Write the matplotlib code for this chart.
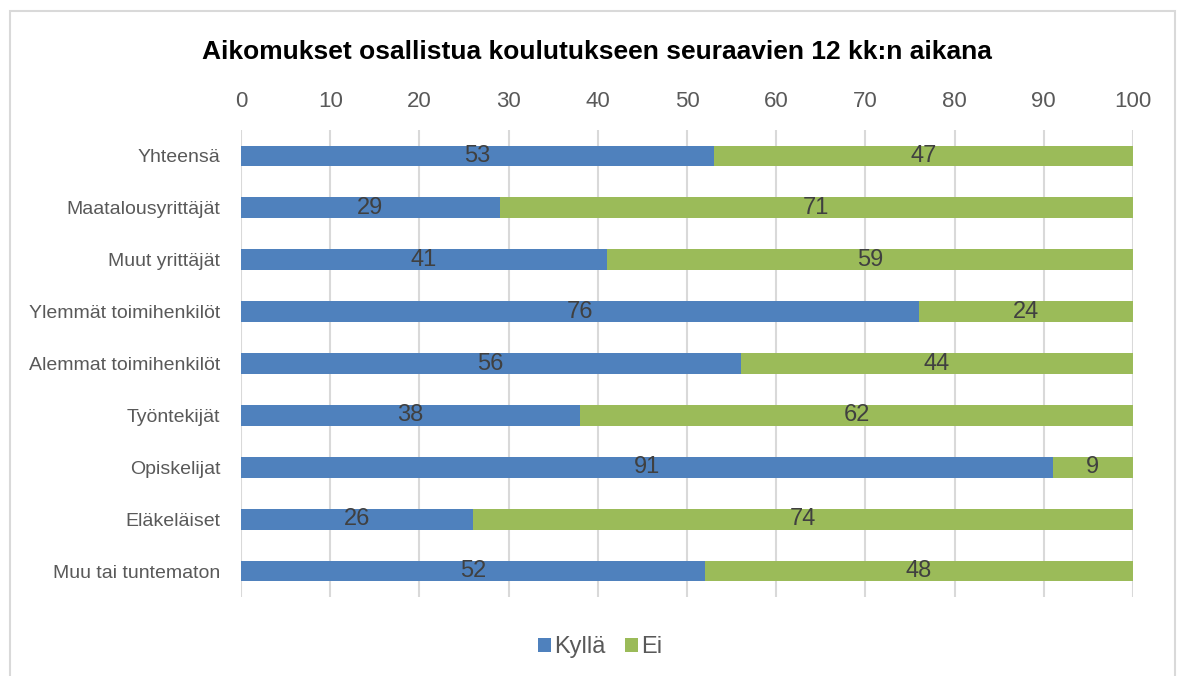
import matplotlib
matplotlib.use("Agg")
import matplotlib.pyplot as plt
from matplotlib.patches import Rectangle, Patch

plt.rcParams['font.family'] = ['Liberation Sans', 'DejaVu Sans']

categories = ['Yhteensä', 'Maatalousyrittäjät', 'Muut yrittäjät',
              'Ylemmät toimihenkilöt', 'Alemmat toimihenkilöt', 'Työntekijät',
              'Opiskelijat', 'Eläkeläiset', 'Muu tai tuntematon']
kylla = [53, 29, 41, 76, 56, 38, 91, 26, 52]
ei = [47, 71, 59, 24, 44, 62, 9, 74, 48]
ticks = [0, 10, 20, 30, 40, 50, 60, 70, 80, 90, 100]

blue = '#4F81BD'
green = '#9BBB59'
W, H = 1183, 676

fig = plt.figure(figsize=(W / 100, H / 100), dpi=100)
ax = fig.add_axes([241 / W, 1 - 597 / H, (1133 - 241) / W, (597 - 130) / H])

y = list(range(len(categories)))
ax.barh(y, kylla, height=0.4, color=blue, label='Kyllä', zorder=3)
ax.barh(y, ei, left=kylla, height=0.4, color=green, label='Ei', zorder=3)

for i in y:
    ax.text(kylla[i] / 2, i, str(kylla[i]), ha='center', va='center',
            fontsize=17, color='#404040', zorder=4)
    ax.text(kylla[i] + ei[i] / 2, i, str(ei[i]), ha='center', va='center',
            fontsize=17, color='#404040', zorder=4)

ax.set_xlim(0, 100)
ax.set_ylim(len(categories) - 0.5, -0.5)
ax.set_xticks(ticks)
ax.set_yticks(y)
ax.set_yticklabels(categories)
ax.xaxis.tick_top()
ax.tick_params(axis='x', length=0, pad=13, labelsize=16, labelcolor='#595959')
ax.tick_params(axis='y', length=0, pad=15, labelsize=14, labelcolor='#595959')
ax.grid(axis='x', color='#D9D9D9', linewidth=1.5, zorder=0)
for s in ax.spines.values():
    s.set_visible(False)

fig.text(597 / W, 1 - 52 / H, 'Aikomukset osallistua koulutukseen seuraavien 12 kk:n aikana',
         ha='center', va='center', fontsize=19, fontweight='bold', color='black')

handles = [Patch(facecolor=blue), Patch(facecolor=green)]
fig.legend(handles, ['Kyllä', 'Ei'], loc='center', bbox_to_anchor=(600 / W, 1 - 647 / H),
           ncol=2, frameon=False, fontsize=17, handlelength=0.55, handleheight=0.55,
           handletextpad=0.15, columnspacing=0.8, labelcolor='#595959')

fig.patches.append(Rectangle((10 / W, -0.05), (1175 - 10) / W, 1.05 - 11 / H,
                             transform=fig.transFigure, fill=False,
                             edgecolor='#D9D9D9', linewidth=1.5))

fig.savefig('out.png', dpi=100)
